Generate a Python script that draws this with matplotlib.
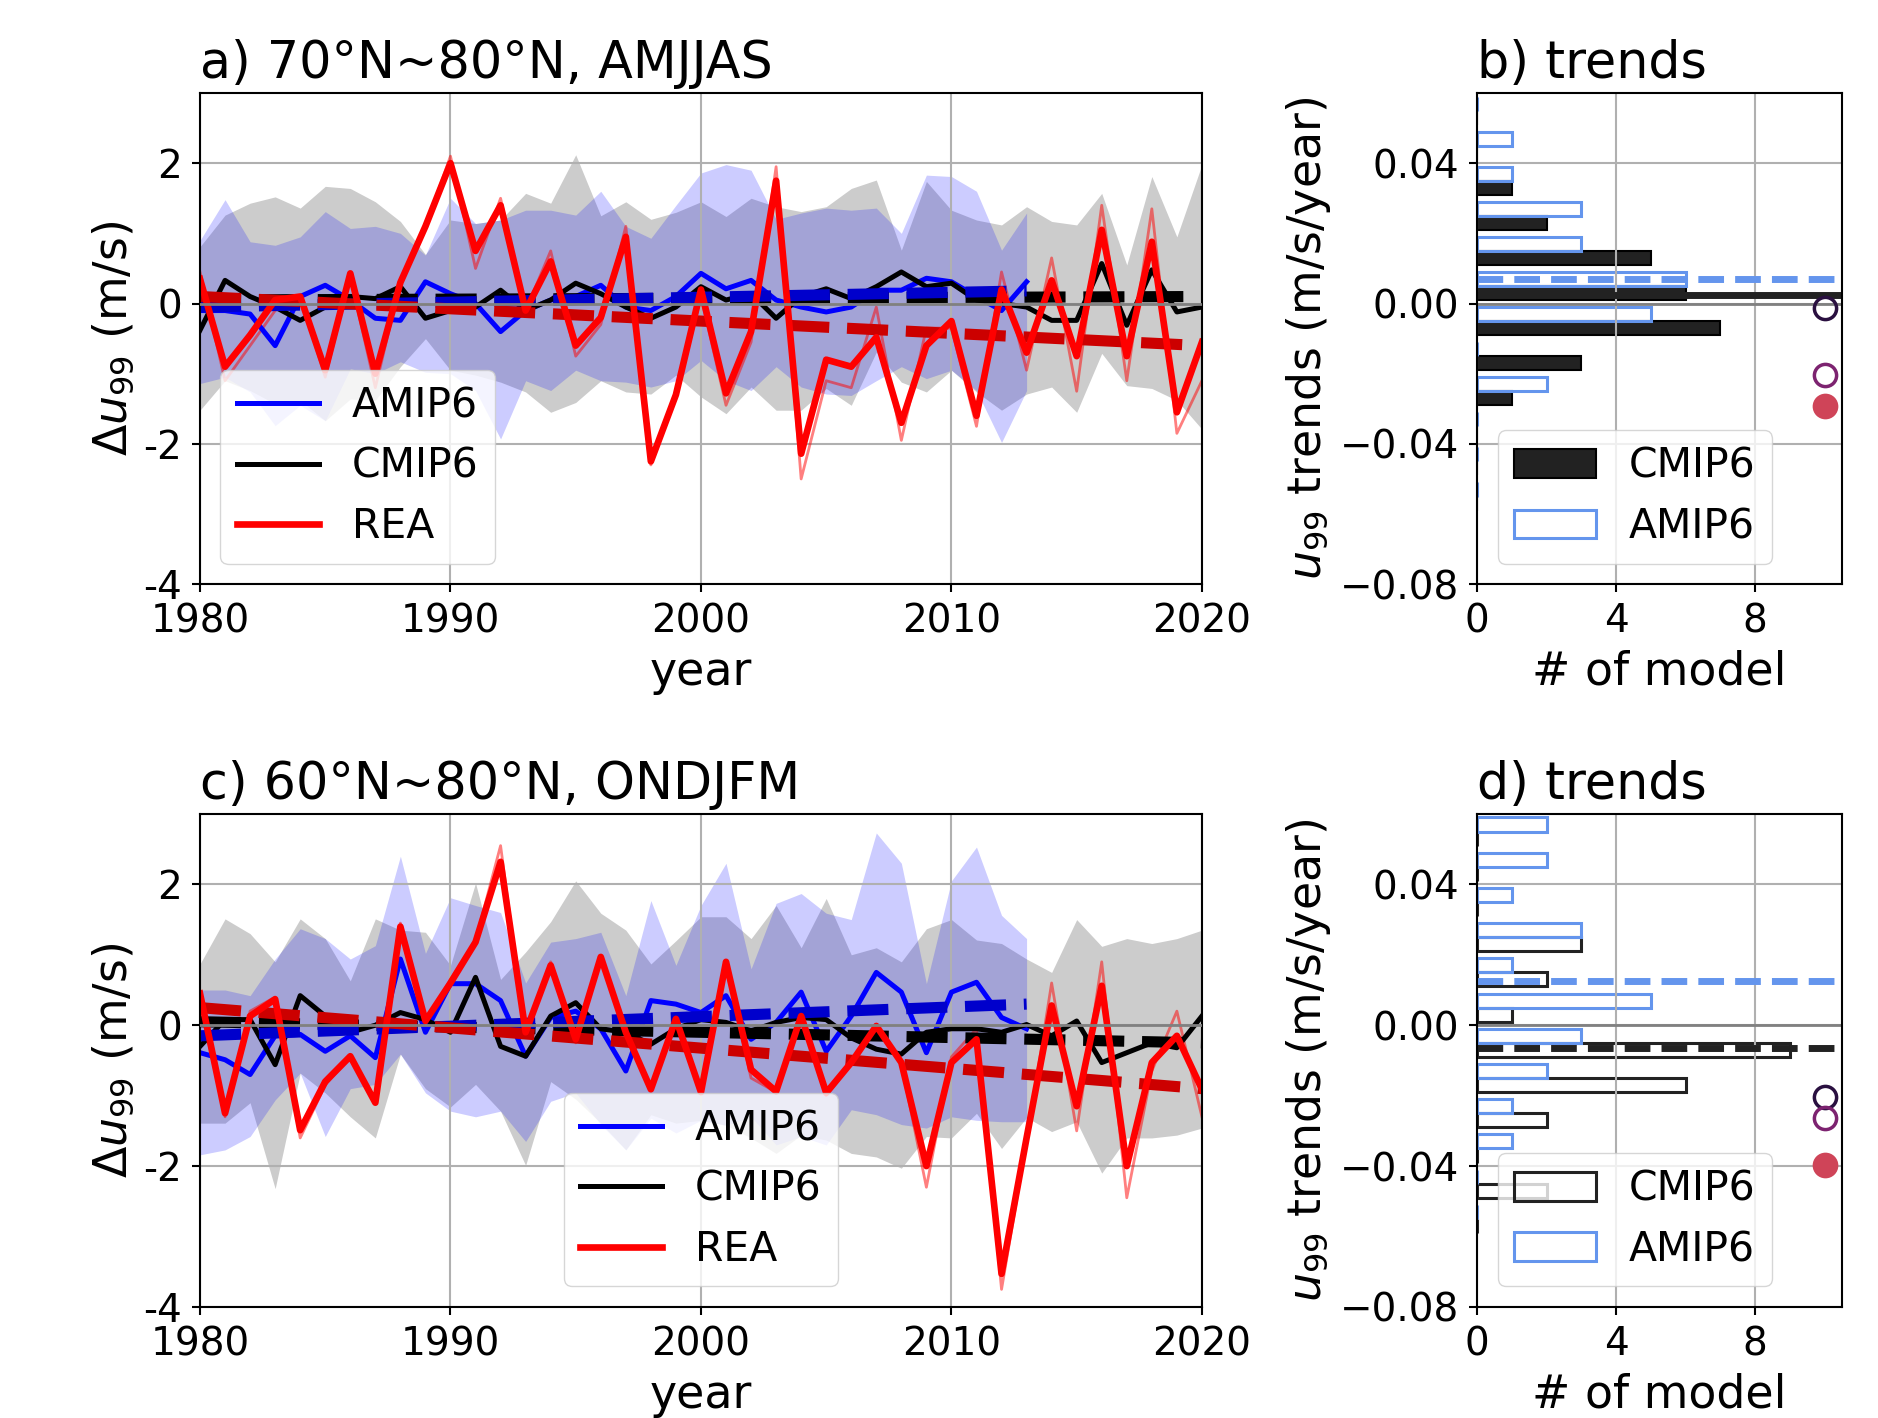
import numpy as np
import matplotlib
matplotlib.use("Agg")
import matplotlib.pyplot as plt

# ---- data -----------------------------------------------------------------
years = np.arange(1980, 2021)          # REA / CMIP6 years
years_amip = np.arange(1980, 2014)     # AMIP6 years

# panel a) 70N-80N, AMJJAS
a_rea = [0.35, -0.9, -0.45, 0.05, 0.1, -0.95, 0.43, -1.0, 0.3, 1.1,
         2.0, 0.75, 1.4, -0.1, 0.6, -0.6, -0.2, 0.95, -2.25, -1.3,
         0.2, -1.28, -0.4, 1.75, -2.14, -0.8, -0.9, -0.48, -1.7, -0.6,
         -0.25, -1.6, 0.2, -0.7, 0.33, -0.75, 1.05, -0.75, 0.88, -1.55,
         -0.55]
a_rea2 = [0.45, -1.1, -0.6, -0.1, 0.1, -1.05, 0.38, -1.2, 0.3, 1.1,
          2.1, 0.5, 1.5, -0.1, 0.75, -0.75, -0.3, 1.1, -2.3, -1.35,
          0.1, -1.45, -0.55, 1.95, -2.5, -1.1, -1.2, -0.05, -1.95, -0.35,
          -0.35, -1.75, 0.45, -0.95, 0.65, -1.25, 1.4, -1.1, 1.35, -1.85,
          -1.1]
a_cmip = [-0.38, 0.33, 0.1, -0.05, -0.24, -0.05, 0.1, 0.07, 0.24, -0.21,
          -0.1, -0.05, 0.19, -0.1, 0.05, 0.29, 0.14, -0.05, -0.21, -0.05,
          0.24, 0.05, 0.14, -0.21, 0.1, 0.21, 0.07, 0.24, 0.45, 0.24,
          0.29, 0.05, 0.0, -0.05, -0.24, -0.24, 0.57, -0.31, 0.48, -0.12,
          -0.05]
a_amip = [-0.1, -0.1, -0.15, -0.6, 0.1, 0.26, 0.05, -0.21, -0.24, 0.31,
          0.14, 0.0, -0.4, -0.1, 0.05, 0.1, 0.26, -0.05, -0.1, 0.1,
          0.43, 0.21, 0.33, 0.05, -0.05, -0.12, -0.05, 0.19, 0.19, 0.36,
          0.31, 0.1, -0.1, 0.31]
a_cmip_hi = [0.81, 1.26, 1.43, 1.52, 1.36, 1.67, 1.64, 1.45, 1.17, 0.7,
             1.19, 1.14, 1.19, 1.57, 1.43, 2.12, 1.25, 1.45, 1.2, 1.3,
             1.45, 1.24, 1.5, 1.38, 1.31, 1.38, 1.64, 1.76, 0.76, 1.74,
             1.33, 1.19, 1.12, 1.38, 1.17, 1.12, 1.57, 0.55, 1.81, 0.95,
             1.98]
a_cmip_lo = [-1.52, -1.1, -1.24, -1.43, -1.38, -1.67, -1.36, -1.38, -0.9, -0.5,
             -0.95, -1.02, -1.12, -1.26, -1.55, -1.41, -1.1, -1.26, -1.29, -1.02,
             -1.33, -1.57, -1.19, -1.52, -1.52, -1.21, -1.45, -0.69, -1.12, -1.26,
             -0.95, -1.26, -1.52, -1.29, -1.19, -1.55, -0.71, -1.17, -1.21, -1.38,
             -1.79]
a_amip_hi = [0.9, 1.48, 0.88, 0.83, 0.95, 1.31, 1.07, 1.1, 1.0, 0.69,
             1.5, 1.14, 1.19, 1.33, 1.33, 1.26, 1.6, 1.1, 0.93, 1.4,
             1.86, 1.98, 1.9, 1.2, 1.29, 1.36, 1.33, 1.36, 1.0, 1.83,
             1.81, 1.6, 0.76, 1.29]
a_amip_lo = [-1.14, -1.05, -1.26, -1.74, -1.45, -1.67, -0.93, -1.0, -0.83, -0.98,
             -1.0, -1.24, -1.93, -1.1, -1.24, -0.95, -1.1, -1.12, -1.19, -1.1,
             -0.81, -1.1, -1.24, -0.9, -1.19, -1.29, -1.31, -1.1, -0.9, -1.07,
             -0.95, -1.24, -1.98, -1.24]
a_trend_rea = [0.1, -0.6]
a_trend_cmip = [0.05, 0.1]
a_trend_amip = [-0.05, 0.18]

# panel c) 60N-80N, ONDJFM
c_rea = [0.45, -1.25, 0.13, 0.37, -1.49, -0.8, -0.44, -1.1, 1.4, 0.06,
         0.6, 1.18, 2.32, -0.1, 0.85, -0.2, 0.97, -0.1, -0.91, 0.09,
         -0.95, 0.9, -0.63, -0.94, 0.13, -0.96, -0.53, -0.01, -0.53, -2.0,
         -0.53, -0.2, -3.53, -1.6, 0.28, -1.15, 0.56, -2.0, -0.53, -0.15,
         -0.91]
c_rea2 = [0.3, -1.3, 0.2, 0.4, -1.6, -0.85, -0.45, -1.1, 1.45, 0.05,
          0.65, 1.2, 2.55, -0.15, 0.9, -0.25, 0.95, -0.1, -0.9, 0.1,
          -0.95, 0.85, -0.75, -0.95, 0.2, -1.0, -0.55, -0.05, -0.55, -2.3,
          -0.45, -0.05, -3.75, -1.65, 0.6, -1.5, 0.9, -2.45, -0.65, 0.2,
          -1.3]
c_cmip = [-0.3, 0.08, 0.08, -0.56, 0.42, 0.13, -0.1, 0.0, 0.18, 0.08,
          -0.1, 0.68, -0.3, -0.44, 0.13, 0.32, -0.05, -0.1, -0.27, -0.05,
          0.08, 0.04, -0.08, 0.04, 0.11, 0.08, -0.18, -0.34, -0.41, -0.1,
          -0.05, -0.05, -0.1, 0.01, -0.15, 0.06, -0.53, -0.39, -0.25, -0.32,
          0.13]
c_amip = [-0.39, -0.49, -0.7, -0.15, -0.13, -0.37, -0.15, -0.46, 0.94, -0.1,
          0.59, 0.59, 0.35, -0.44, 0.11, 0.2, -0.05, -0.65, 0.35, 0.3,
          0.18, 0.42, -0.2, 0.04, 0.47, -0.37, 0.13, 0.75, 0.47, -0.39,
          0.47, 0.61, 0.11, -0.05]
c_cmip_hi = [0.87, 1.51, 1.3, 0.9, 1.51, 1.23, 0.63, 1.51, 1.35, 1.32,
             0.85, 2.02, 0.65, 1.04, 1.47, 2.05, 1.59, 1.35, 0.87, 1.2,
             1.54, 1.54, 1.23, 1.7, 1.1, 1.8, 1.0, 1.1, 0.9, 1.37,
             1.5, 1.21, 1.16, 0.94, 0.75, 1.5, 1.12, 1.23, 1.16, 1.23,
             1.35]
c_cmip_lo = [-1.39, -1.39, -1.1, -2.32, -0.68, -0.96, -1.3, -1.6, -0.41, -0.9,
             -1.16, -0.84, -1.22, -1.99, -0.8, -1.05, -1.39, -1.77, -1.27, -1.39,
             -1.35, -1.42, -1.6, -1.82, -1.56, -1.63, -1.82, -1.87, -2.03, -1.58,
             -1.6, -1.25, -1.75, -1.31, -1.51, -1.37, -2.1, -1.6, -1.6, -1.56,
             -1.46]
c_amip_hi = [0.5, 0.5, 0.42, 0.94, 1.37, 1.23, 0.94, 1.13, 2.4, 1.02,
             1.81, 1.7, 1.6, 0.6, 1.18, 1.23, 1.32, 0.42, 1.77, 0.85,
             1.7, 2.3, 0.8, 1.73, 1.87, 1.59, 1.5, 2.73, 2.3, 0.59,
             2.05, 2.53, 1.56, 1.23]
c_amip_lo = [-1.84, -1.77, -1.58, -1.06, -0.68, -1.58, -0.9, -0.84, -0.41, -0.96,
             -1.22, -1.3, -1.22, -1.65, -1.08, -0.96, -1.41, -1.77, -1.32, -1.53,
             -1.35, -1.42, -1.3, -1.7, -1.58, -1.7, -1.2, -1.27, -1.41, -1.46,
             -1.3, -1.35, -1.37, -1.37]
c_trend_rea = [0.25, -0.9]
c_trend_cmip = [0.05, -0.25]
c_trend_amip = [-0.15, 0.3]

# trend histograms (number of models per 0.01 m/s/year bin)
bin_edges = np.round(np.arange(-0.06, 0.0601, 0.01), 3)
b_cmip_counts = [0, 0, 0, 1, 3, 7, 6, 5, 2, 1, 0, 0]
b_amip_counts = [0, 0, 0, 2, 0, 5, 6, 3, 3, 1, 1, 0]
d_cmip_counts = [0, 2, 0, 2, 6, 9, 1, 2, 3, 0, 0, 0]
d_amip_counts = [0, 0, 1, 1, 2, 3, 5, 1, 3, 1, 2, 2]
b_mean_cmip, b_mean_amip = 0.0025, 0.0071
d_mean_cmip, d_mean_amip = -0.0064, 0.0127
b_rea_trends = [-0.0012, -0.0205, -0.0293]
d_rea_trends = [-0.0205, -0.0264, -0.0397]
rea_colors = ["#2a1040", "#7d2370", "#cf4458"]
rea_filled = [False, False, True]

# ---- styling ---------------------------------------------------------------
plt.rcParams["font.size"] = 28
plt.rcParams["legend.fontsize"] = 29.5
plt.rcParams["axes.labelsize"] = 33
plt.rcParams["axes.linewidth"] = 1.5
plt.rcParams["xtick.major.size"] = 6
plt.rcParams["ytick.major.size"] = 6
plt.rcParams["xtick.major.width"] = 1.5
plt.rcParams["ytick.major.width"] = 1.5
plt.rcParams["xtick.major.pad"] = 7
plt.rcParams["ytick.major.pad"] = 7
plt.rcParams["grid.linewidth"] = 1.5
TITLE_SIZE = 36.5


def draw_series(ax, title, rea, rea2, cmip, amip, cmip_hi, cmip_lo, amip_hi, amip_lo,
                tr_rea, tr_cmip, tr_amip, legend_loc):
    ax.fill_between(years, cmip_lo, cmip_hi, color="gray", alpha=0.4, lw=0)
    ax.fill_between(years_amip, amip_lo, amip_hi, color="blue", alpha=0.2, lw=0)
    ax.plot(years, rea2, color="red", lw=2.0, alpha=0.5)
    ax.plot(years_amip, amip, color="blue", lw=3.6, label="AMIP6")
    ax.plot(years, cmip, color="black", lw=3.6, label="CMIP6")
    ax.plot([years[0], years[-1]], tr_cmip, color="black", lw=8, ls="--")
    ax.plot([years_amip[0], years_amip[-1]], tr_amip, color="#0000cc", lw=8, ls="--")
    ax.plot([years[0], years[-1]], tr_rea, color="#cc0000", lw=8, ls="--")
    ax.plot(years, rea, color="red", lw=4.8, label="REA")
    ax.axhline(0, color="gray", lw=2, zorder=5)
    ax.set_xlim(1980, 2020)
    ax.set_ylim(-4, 3)
    ax.set_xticks([1980, 1990, 2000, 2010, 2020])
    ax.set_yticks([-4, -2, 0, 2])
    ax.set_yticklabels(["-4", "-2", "0", "2"])
    ax.grid(True)
    ax.set_xlabel("year", labelpad=7)
    ax.set_ylabel(r"$\Delta u_{99}$ (m/s)", labelpad=5)
    ax.set_title(title, loc="left", pad=11, fontsize=TITLE_SIZE)
    ax.legend(loc=legend_loc)


def draw_hist(ax, title, cmip_counts, amip_counts, cmip_filled, mean_cmip, mean_amip,
              cmip_ls, rea_trends):
    width = 0.004
    lows = bin_edges[:-1]
    if cmip_filled:
        ax.barh(lows + 0.001, cmip_counts, height=width, align="edge",
                color="#222222", edgecolor="black", lw=1.5, label="CMIP6")
    else:
        ax.barh(lows + 0.001, cmip_counts, height=width, align="edge",
                facecolor="none", edgecolor="#222222", lw=2.2, label="CMIP6")
    ax.barh(lows + 0.005, amip_counts, height=width, align="edge",
            facecolor="none", edgecolor="cornflowerblue", lw=2.2, label="AMIP6")
    ax.axhline(mean_amip, color="cornflowerblue", lw=5, ls="--")
    ax.axhline(mean_cmip, color="#222222", lw=5, ls=cmip_ls)
    ax.axhline(0, color="gray", lw=2)
    for val, col, filled in zip(rea_trends, rea_colors, rea_filled):
        ax.plot(10, val, "o", ms=16, mec=col, mew=2.5,
                mfc=col if filled else "none", clip_on=False)
    ax.set_xlim(0, 10.5)
    ax.set_ylim(-0.08, 0.06)
    ax.set_xticks([0, 4, 8])
    ax.set_yticks([-0.08, -0.04, 0.0, 0.04])
    ax.grid(True)
    ax.set_xlabel("# of model", labelpad=7)
    ax.set_ylabel(r"$u_{99}$ trends (m/s/year)", labelpad=5)
    ax.set_title(title, loc="left", pad=11, fontsize=TITLE_SIZE)
    ax.legend(loc="lower left")


fig = plt.figure(figsize=(18.78, 14.18), dpi=100)
ax_a = fig.add_axes([0.1065, 0.588, 0.5335, 0.3464])
ax_b = fig.add_axes([0.7865, 0.588, 0.1943, 0.3464])
ax_c = fig.add_axes([0.1065, 0.0783, 0.5335, 0.3477])
ax_d = fig.add_axes([0.7865, 0.0783, 0.1943, 0.3477])

draw_series(ax_a, "a) 70°N~80°N, AMJJAS", a_rea, a_rea2, a_cmip, a_amip,
            a_cmip_hi, a_cmip_lo, a_amip_hi, a_amip_lo,
            a_trend_rea, a_trend_cmip, a_trend_amip, "lower left")
draw_series(ax_c, "c) 60°N~80°N, ONDJFM", c_rea, c_rea2, c_cmip, c_amip,
            c_cmip_hi, c_cmip_lo, c_amip_hi, c_amip_lo,
            c_trend_rea, c_trend_cmip, c_trend_amip, "lower center")
draw_hist(ax_b, "b) trends", b_cmip_counts, b_amip_counts, True,
          b_mean_cmip, b_mean_amip, "-", b_rea_trends)
draw_hist(ax_d, "d) trends", d_cmip_counts, d_amip_counts, False,
          d_mean_cmip, d_mean_amip, "--", d_rea_trends)

fig.savefig("out.png", dpi=100)
